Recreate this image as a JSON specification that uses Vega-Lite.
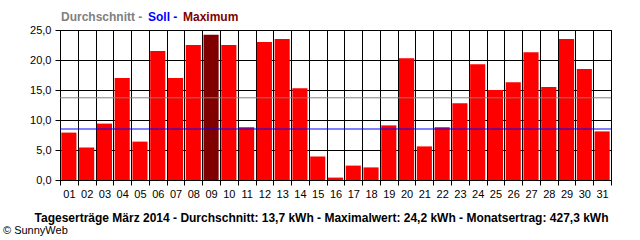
{
  "$schema": "https://vega.github.io/schema/vega-lite/v6.json",
  "width": 551,
  "height": 150,
  "autosize": "none",
  "padding": {"left": 60, "top": 30, "right": 29, "bottom": 60},
  "background": "white",
  "config": {
    "font": "Liberation Sans",
    "view": {"stroke": "black", "strokeWidth": 1}
  },
  "title": {
    "text": "© SunnyWeb",
    "orient": "bottom",
    "anchor": "start",
    "frame": "group",
    "dx": -57,
    "offset": 2,
    "fontSize": 11,
    "fontWeight": "normal",
    "font": "Liberation Sans",
    "color": "black"
  },
  "datasets": {
    "tage": [
      {"tag": "01", "kwh": 7.9, "typ": "Tag"},
      {"tag": "02", "kwh": 5.4, "typ": "Tag"},
      {"tag": "03", "kwh": 9.4, "typ": "Tag"},
      {"tag": "04", "kwh": 17.0, "typ": "Tag"},
      {"tag": "05", "kwh": 6.4, "typ": "Tag"},
      {"tag": "06", "kwh": 21.5, "typ": "Tag"},
      {"tag": "07", "kwh": 17.0, "typ": "Tag"},
      {"tag": "08", "kwh": 22.5, "typ": "Tag"},
      {"tag": "09", "kwh": 24.2, "typ": "Maximum"},
      {"tag": "10", "kwh": 22.5, "typ": "Tag"},
      {"tag": "11", "kwh": 8.8, "typ": "Tag"},
      {"tag": "12", "kwh": 23.0, "typ": "Tag"},
      {"tag": "13", "kwh": 23.5, "typ": "Tag"},
      {"tag": "14", "kwh": 15.3, "typ": "Tag"},
      {"tag": "15", "kwh": 3.9, "typ": "Tag"},
      {"tag": "16", "kwh": 0.4, "typ": "Tag"},
      {"tag": "17", "kwh": 2.4, "typ": "Tag"},
      {"tag": "18", "kwh": 2.1, "typ": "Tag"},
      {"tag": "19", "kwh": 9.1, "typ": "Tag"},
      {"tag": "20", "kwh": 20.3, "typ": "Tag"},
      {"tag": "21", "kwh": 5.6, "typ": "Tag"},
      {"tag": "22", "kwh": 8.8, "typ": "Tag"},
      {"tag": "23", "kwh": 12.8, "typ": "Tag"},
      {"tag": "24", "kwh": 19.3, "typ": "Tag"},
      {"tag": "25", "kwh": 15.0, "typ": "Tag"},
      {"tag": "26", "kwh": 16.3, "typ": "Tag"},
      {"tag": "27", "kwh": 21.3, "typ": "Tag"},
      {"tag": "28", "kwh": 15.5, "typ": "Tag"},
      {"tag": "29", "kwh": 23.5, "typ": "Tag"},
      {"tag": "30", "kwh": 18.5, "typ": "Tag"},
      {"tag": "31", "kwh": 8.1, "typ": "Tag"}
    ],
    "linien": [
      {"typ": "Durchschnitt", "kwh": 13.7},
      {"typ": "Soll", "kwh": 8.5}
    ]
  },
  "encoding": {
    "y": {
      "field": "kwh",
      "type": "quantitative",
      "scale": {"domain": [0, 25], "nice": false},
      "axis": {
        "title": null,
        "values": [0, 5, 10, 15, 20, 25],
        "labelOverlap": false,
        "labelExpr": "replace(format(datum.value, '.1f'), '.', ',')",
        "labelFont": "Liberation Sans",
        "labelFontSize": 11,
        "labelColor": "black",
        "labelPadding": 4,
        "grid": true,
        "gridColor": "black",
        "gridOpacity": 1,
        "gridWidth": 1,
        "tickColor": "black",
        "tickSize": 5,
        "domainColor": "black"
      }
    },
    "color": {
      "field": "typ",
      "type": "nominal",
      "scale": {
        "domain": ["Durchschnitt", "Soll", "Maximum", "Tag"],
        "range": ["#808080", "#0000ff", "#800000", "#ff0000"]
      },
      "legend": {
        "orient": "none",
        "legendX": -11,
        "legendY": -19,
        "direction": "horizontal",
        "gridAlign": "none",
        "title": null,
        "values": ["Durchschnitt", "Soll", "Maximum"],
        "symbolSize": 0,
        "symbolStrokeWidth": 0,
        "symbolOpacity": 0,
        "labelOffset": 0,
        "columnPadding": -7,
        "labelFont": "Liberation Sans",
        "labelFontSize": 12,
        "labelFontWeight": "bold",
        "labelExpr": "datum.label == 'Maximum' ? datum.label : datum.label + ' -'",
        "encode": {
          "labels": {"update": {"fill": {"signal": "scale('color', datum.value)"}}}
        }
      }
    }
  },
  "layer": [
    {
      "data": {"name": "tage"},
      "mark": {"type": "bar", "width": {"band": 0.85}},
      "encoding": {
        "x": {
          "field": "tag",
          "type": "ordinal",
          "scale": {"paddingInner": 0, "paddingOuter": 0},
          "axis": {
            "title": "Tageserträge März 2014 - Durchschnitt: 13,7 kWh - Maximalwert: 24,2 kWh - Monatsertrag: 427,3 kWh",
            "titleFont": "Liberation Sans",
            "titleFontSize": 12,
            "titleFontWeight": "bold",
            "titleColor": "black",
            "titleX": 261,
            "titleY": 41,
            "titleAlign": "center",
            "titleBaseline": "alphabetic",
            "labelAngle": 0,
            "labelFont": "Liberation Sans",
            "labelFontSize": 11,
            "labelColor": "black",
            "labelPadding": 3,
            "tickBand": "extent",
            "grid": true,
            "gridColor": "black",
            "gridOpacity": 1,
            "gridWidth": 1,
            "tickColor": "black",
            "tickSize": 5,
            "tickWidth": 1,
            "domainColor": "black",
            "domainWidth": 1
          }
        }
      }
    },
    {
      "data": {"name": "linien"},
      "mark": {"type": "rule", "strokeWidth": 1},
      "encoding": {}
    }
  ]
}
